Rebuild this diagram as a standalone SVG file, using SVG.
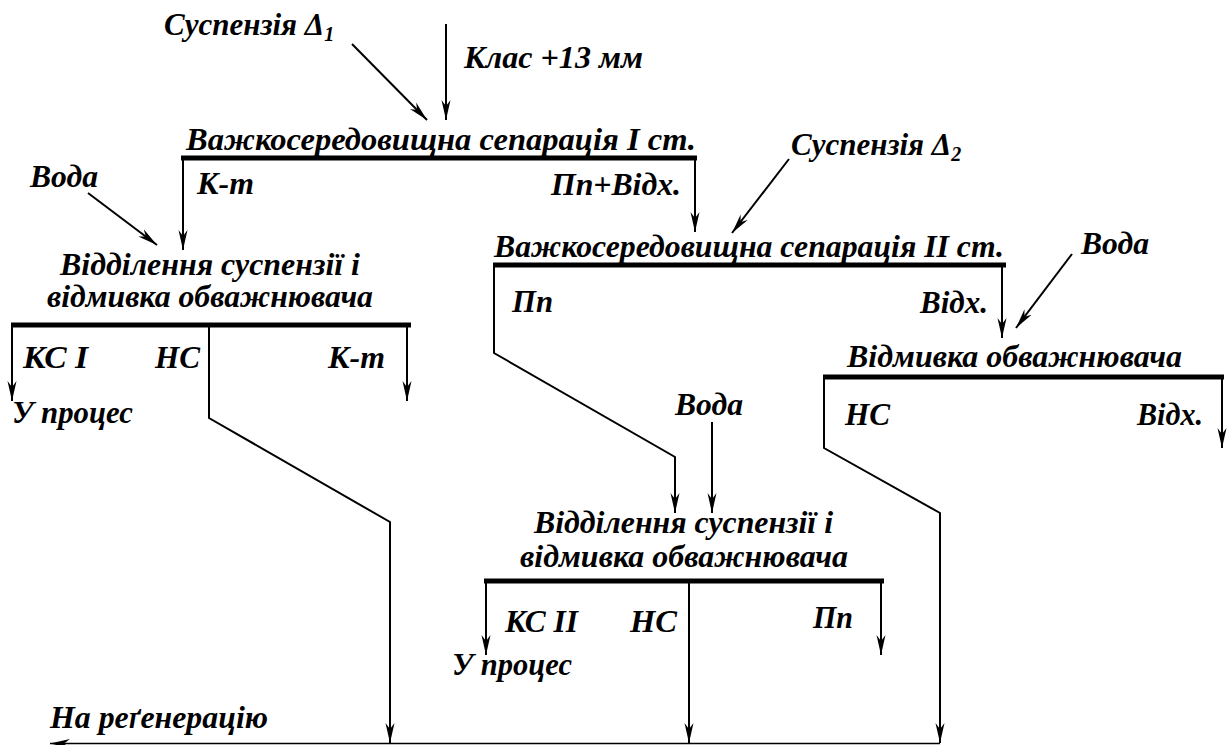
<svg xmlns="http://www.w3.org/2000/svg" width="1227" height="745" viewBox="0 0 1227 745">
<defs>
<style>
text{font-family:"Liberation Serif","Times New Roman",serif;font-weight:bold;font-style:italic;font-size:31px;fill:#000}
.ar{fill:none;stroke:#000;stroke-width:2;marker-end:url(#ah)}
.bar{fill:none;stroke:#000;stroke-width:5}
</style>
<marker id="ah" viewBox="0 0 21 10" markerWidth="21" markerHeight="10" refX="20" refY="5" orient="auto" markerUnits="userSpaceOnUse">
<path d="M0,0.5 L20,5 L0,9.5 L6,5 Z" fill="#000"/>
</marker>
</defs>
<rect width="1227" height="745" fill="#fff"/>

<g id="connectors">
<path class="ar" d="M446,24 V120"/>
<path class="ar" d="M352,44 L427,120"/>
<path class="ar" d="M183,158 V250"/>
<path class="ar" d="M695,158 V232"/>
<path class="ar" d="M88,193 L157,245"/>
<path class="ar" d="M789,159 L732,233"/>
<path class="ar" d="M1002,265 V338"/>
<path class="ar" d="M1072,254 L1016,328"/>
<path class="ar" d="M12,325 V401"/>
<path class="ar" d="M407,325 V401"/>
<path class="ar" d="M209,325 V418 L390,522 V743"/>
<path class="ar" d="M494,265 V353 L675,457 V513"/>
<path class="ar" d="M712,422 V513"/>
<path class="ar" d="M824,377 V448 L940,513 V743"/>
<path class="ar" d="M1222,377 V448"/>
<path class="ar" d="M486,581 V655"/>
<path class="ar" d="M689,581 V743"/>
<path class="ar" d="M881,581 V655"/>
<path class="ar" d="M940,743.5 H50" style="stroke-width:1.5"/>
</g>

<g id="input-suspension1"><text x="164" y="35">Суспензія Δ<tspan font-size="20" dy="6">1</tspan></text></g>
<g id="input-class"><text x="464" y="68" textLength="179" lengthAdjust="spacingAndGlyphs">Клас +13 мм</text></g>

<g id="hms1">
<text x="186" y="150" textLength="510" lengthAdjust="spacingAndGlyphs">Важкосередовищна сепарація І ст.</text>
<line class="bar" x1="181" y1="158" x2="697" y2="158"/>
<text x="197" y="194" textLength="57" lengthAdjust="spacingAndGlyphs">К-т</text>
<text x="551" y="195" textLength="130" lengthAdjust="spacingAndGlyphs">Пп+Відх.</text>
</g>

<g id="water1"><text x="30" y="187" textLength="68" lengthAdjust="spacingAndGlyphs">Вода</text></g>

<g id="drain1">
<text x="60" y="275" textLength="300" lengthAdjust="spacingAndGlyphs">Відділення суспензії і</text>
<text x="47" y="307" textLength="326" lengthAdjust="spacingAndGlyphs">відмивка обважнювача</text>
<line class="bar" x1="11" y1="325" x2="411" y2="325"/>
<text x="23" y="368" textLength="65" lengthAdjust="spacingAndGlyphs">КС І</text>
<text x="155" y="368" textLength="45" lengthAdjust="spacingAndGlyphs">НС</text>
<text x="328" y="368" textLength="57" lengthAdjust="spacingAndGlyphs">К-т</text>
<text x="12" y="423" textLength="121" lengthAdjust="spacingAndGlyphs">У процес</text>
</g>

<g id="input-suspension2"><text x="791" y="155">Суспензія Δ<tspan font-size="20" dy="6">2</tspan></text></g>

<g id="hms2">
<text x="494" y="257" textLength="510" lengthAdjust="spacingAndGlyphs">Важкосередовищна сепарація ІІ ст.</text>
<line class="bar" x1="493" y1="265" x2="1006" y2="265"/>
<text x="512" y="312" textLength="41" lengthAdjust="spacingAndGlyphs">Пп</text>
<text x="920" y="313" textLength="68" lengthAdjust="spacingAndGlyphs">Відх.</text>
</g>

<g id="water2"><text x="1081" y="254" textLength="68" lengthAdjust="spacingAndGlyphs">Вода</text></g>

<g id="wash">
<text x="847" y="367" textLength="335" lengthAdjust="spacingAndGlyphs">Відмивка обважнювача</text>
<line class="bar" x1="823" y1="377" x2="1224" y2="377"/>
<text x="845" y="425" textLength="45" lengthAdjust="spacingAndGlyphs">НС</text>
<text x="1137" y="425" textLength="66" lengthAdjust="spacingAndGlyphs">Відх.</text>
</g>

<g id="water3"><text x="675" y="415" textLength="68" lengthAdjust="spacingAndGlyphs">Вода</text></g>

<g id="drain2">
<text x="534" y="533" textLength="299" lengthAdjust="spacingAndGlyphs">Відділення суспензії і</text>
<text x="520" y="567" textLength="328" lengthAdjust="spacingAndGlyphs">відмивка обважнювача</text>
<line class="bar" x1="484" y1="581" x2="884" y2="581"/>
<text x="505" y="632" textLength="73" lengthAdjust="spacingAndGlyphs">КС ІІ</text>
<text x="630" y="632" textLength="47" lengthAdjust="spacingAndGlyphs">НС</text>
<text x="813" y="628" textLength="40" lengthAdjust="spacingAndGlyphs">Пп</text>
<text x="452" y="675" textLength="120" lengthAdjust="spacingAndGlyphs">У процес</text>
</g>

<g id="regeneration"><text x="50" y="728" textLength="218" lengthAdjust="spacingAndGlyphs">На реґенерацію</text></g>
</svg>
